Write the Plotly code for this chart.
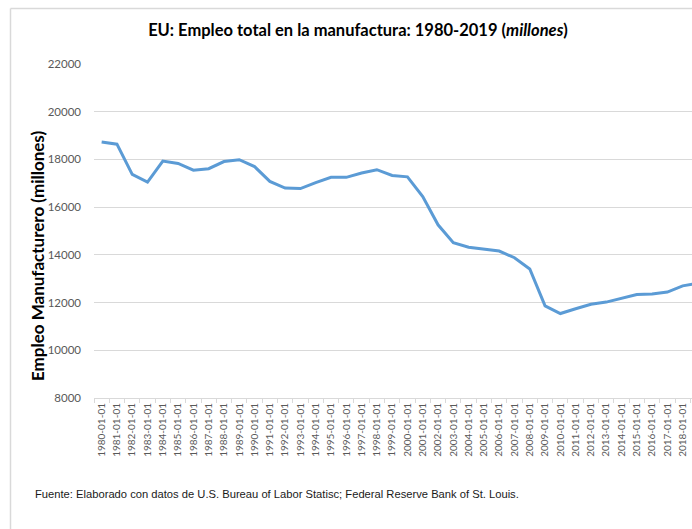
import plotly.graph_objects as go

years = list(range(1980, 2020))
categories = [f"{y}-01-01" for y in years]
employment = [18730, 18640, 17370, 17050, 17930, 17830, 17550, 17610, 17910, 17990,
              17700, 17080, 16800, 16780, 17030, 17250, 17250, 17430, 17570, 17330,
              17270, 16440, 15260, 14510, 14320, 14230, 14160, 13880, 13410, 11860,
              11540, 11740, 11930, 12020, 12190, 12340, 12360, 12440, 12700, 12810]
y_ticks = [8000, 10000, 12000, 14000, 16000, 18000, 20000, 22000]

W, H = 692, 529
L, R, T, B = 94, 692, 64, 398
cat_w = 15.29

def px(x):
    return (x - L) / (R - L)

def py(y):
    return (B - y) / (B - T)

fig = go.Figure()
fig.add_trace(go.Scatter(
    x=categories, y=employment, mode="lines",
    line=dict(color="#5B9BD5", width=3),
    hoverinfo="x+y", showlegend=False,
))

fig.update_layout(
    width=W, height=H,
    margin=dict(l=L, r=W - R, t=T, b=H - B, pad=0, autoexpand=False),
    paper_bgcolor="white", plot_bgcolor="white",
    title=dict(
        text="EU: Empleo total en la manufactura: 1980-2019 (<i>millones</i>)",
        font=dict(family="Lato", size=16.5, color="#000000", weight="bold"),
        xref="container", yref="container",
        x=358 / W, y=1 - 30 / H, xanchor="center", yanchor="middle",
        automargin=False,
    ),
    font=dict(family="Lato"),
)

fig.update_xaxes(
    type="category",
    range=[-0.5, -0.5 + (R - L) / cat_w],
    tickangle=-90,
    tickfont=dict(family="Lato", size=10, color="#595959"),
    showgrid=False,
    showline=True, linecolor="#d9d9d9", linewidth=1,
    ticks="outside", tickson="boundaries", ticklen=4, tickcolor="#d9d9d9",
    zeroline=False, automargin=False,
    categoryorder="array", categoryarray=categories,
)

fig.update_yaxes(
    range=[8000, 22000],
    tickvals=y_ticks,
    ticktext=[str(v) for v in y_ticks],
    tickfont=dict(family="Lato", size=11.5, color="#595959"),
    showgrid=True, gridcolor="#d9d9d9", gridwidth=1,
    zeroline=False, showline=False, automargin=False,
    ticklabelstandoff=12,
)

# y-axis title as annotation
fig.add_annotation(
    text="<b>Empleo Manufacturero (millones)</b>",
    xref="paper", yref="paper",
    x=px(37), y=py(256), xanchor="center", yanchor="middle",
    textangle=-90, showarrow=False,
    font=dict(family="Lato", size=17, color="#000000"),
)

# footnote
fig.add_annotation(
    text="Fuente: Elaborado con datos de U.S. Bureau of Labor Statisc; Federal Reserve Bank of St. Louis.",
    xref="paper", yref="paper",
    x=px(33), y=py(494), xanchor="left", yanchor="middle",
    showarrow=False,
    font=dict(family="Liberation Sans", size=11.2, color="#1a1a1a"),
)

# chart border (top and left visible)
fig.add_shape(type="line", xref="paper", yref="paper",
              x0=px(10.5), x1=px(W + 2), y0=py(8.5), y1=py(8.5),
              line=dict(color="#d9d9d9", width=1.5))
fig.add_shape(type="line", xref="paper", yref="paper",
              x0=px(10.5), x1=px(10.5), y0=py(8.5), y1=py(H + 2),
              line=dict(color="#d9d9d9", width=1.5))

fig.write_html(
    "out.html",
    config={"displayModeBar": False},
    post_script="document.body.style.margin='0px';document.body.style.overflow='hidden';",
)
